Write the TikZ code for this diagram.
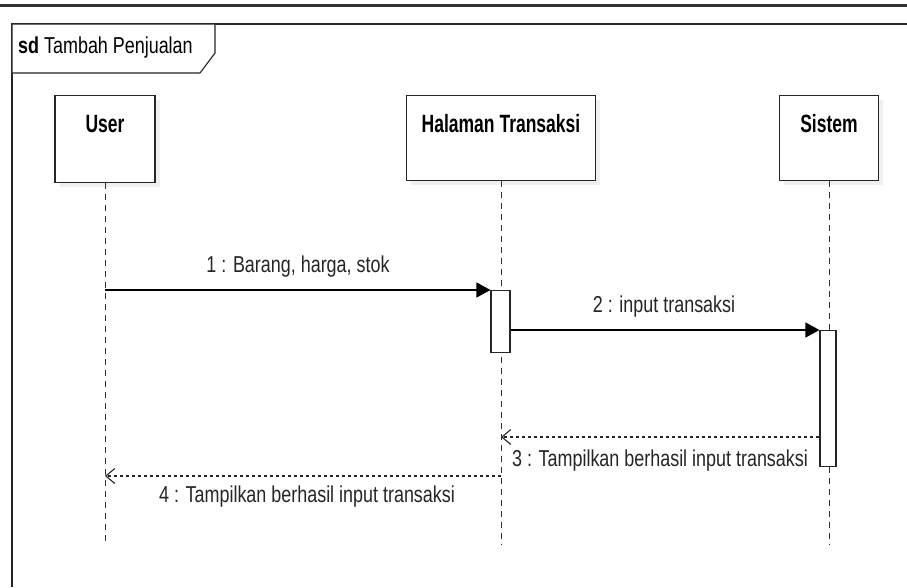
\documentclass[tikz,border=0pt]{standalone}
\usepackage{fontspec}
\setmainfont[FakeStretch=0.78]{Liberation Sans}
\newfontfamily\headfont[FakeStretch=0.70]{Liberation Sans}
\usetikzlibrary{arrows.meta}
\begin{document}
\begin{tikzpicture}[x=1pt,y=-1pt,
  lifebox/.style={draw=black!85,line width=1.1pt,fill=white,minimum height=85pt,anchor=north,inner sep=0pt},
  headtext/.style={anchor=center,inner sep=0pt,font=\headfont\fontsize{25}{27}\selectfont\bfseries},
  lifeline/.style={draw=black!80,line width=0.9pt,dash pattern=on 6pt off 5pt},
  act/.style={draw=black!85,line width=1.1pt,fill=white,anchor=north,inner sep=0pt},
  syncmsg/.style={draw=black,line width=1.2pt,-{Triangle[length=14pt,width=15pt]}},
  retmsg/.style={draw=black!85,line width=1.2pt,dash pattern=on 3pt off 3pt,-{Straight Barb[length=9pt,width=15pt,line width=1.1pt]}},
  msglabel/.style={font=\fontsize{23}{25}\selectfont,text=black!85,inner sep=0pt}
]
\useasboundingbox (0,0) rectangle (907,587);
\fill[white] (0,0) rectangle (907,587);
% top screen line
\draw[black!80,line width=3pt] (0,5) -- (907,5);
% frame
\draw[black!85,line width=1.1pt] (12,587) -- (12,24) -- (907,24);
\draw[black!85,line width=1.1pt,fill=white] (12,24) -- (215,24) -- (215,53) -- (200,73) -- (12,73) -- cycle;
\node[anchor=west,inner sep=0pt,font=\fontsize{23}{25}\selectfont] (title) at (18,48) {\textbf{sd} Tambah Penjualan};

% shadows
\fill[black!6] (60,100) rectangle (160,187);
\fill[black!6] (411,100) rectangle (600,185);
\fill[black!6] (784,100) rectangle (883,185);

% lifeline heads
\node[lifebox,minimum width=100pt,minimum height=87pt] (user) at (105,95) {};
\node[headtext] (userT) at (105,124) {User};
\node[lifebox,minimum width=189pt] (hal) at (501,95) {};
\node[headtext] (halT) at (501,124) {Halaman Transaksi};
\node[lifebox,minimum width=99pt] (sis) at (829,95) {};
\node[headtext] (sisT) at (829,124) {Sistem};

% lifelines
\coordinate (userEnd) at (105,545);
\coordinate (halEnd) at (501,545);
\coordinate (sisEnd) at (829,545);
\draw[lifeline] (user.south) -- (userEnd);
\draw[lifeline] (hal.south) -- (halEnd);
\draw[lifeline] (sis.south) -- (sisEnd);

% activations
\node[act,minimum width=19pt,minimum height=62pt] (a1) at (500.5,290) {};
\node[act,minimum width=16pt,minimum height=136pt] (a2) at (828,330) {};

% messages
\coordinate (m1s) at (105,290);
\draw[syncmsg] (m1s) -- (a1.north west);
\node[msglabel] (l1) at (298,267) {1 : Barang, harga, stok};

\draw[syncmsg] (a1.east |- 0,330) -- (a2.north west);
\node[msglabel] (l2) at (664,307) {2 : input transaksi};

\coordinate (m3e) at (501,437);
\draw[retmsg] (a2.west |- 0,437) -- (m3e);
\node[msglabel] (l3) at (660,461) {3 : Tampilkan berhasil input transaksi};

\coordinate (m4s) at (501,476);
\coordinate (m4e) at (105,476);
\draw[retmsg] (m4s) -- (m4e);
\node[msglabel] (l4) at (307,497) {4 : Tampilkan berhasil input transaksi};
\end{tikzpicture}
\end{document}
